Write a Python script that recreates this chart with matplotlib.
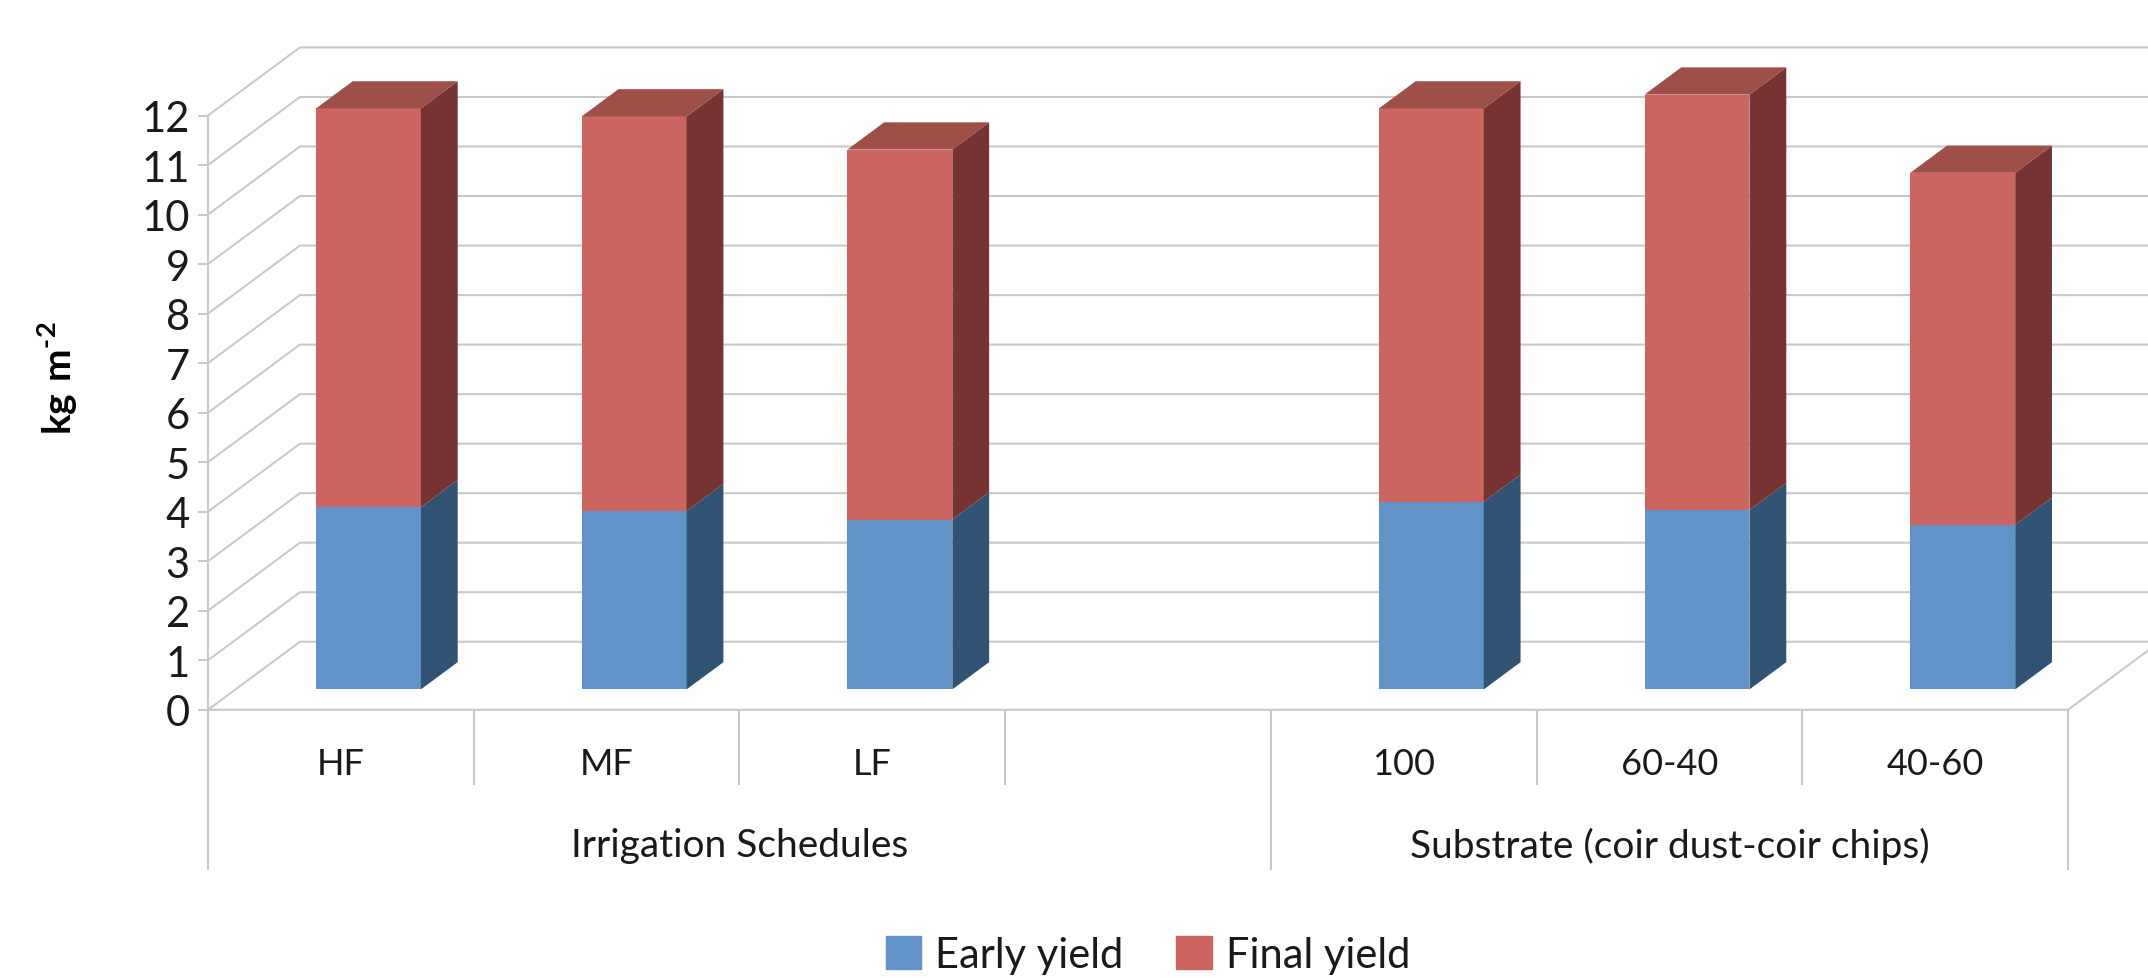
import numpy as np
import matplotlib
matplotlib.use('Agg')
import matplotlib.pyplot as plt
from matplotlib.patches import Patch, Polygon

plt.rcParams['font.family'] = ['Lato', 'DejaVu Sans']
plt.rcParams['mathtext.fontset'] = 'custom'
plt.rcParams['mathtext.rm'] = 'Lato:bold'

# values, kg m-2 (final yield stacks on early yield)
categories = ['HF', 'MF', 'LF', '', '100', '60-40', '40-60']
early_yield = [3.68, 3.60, 3.43, np.nan, 3.79, 3.62, 3.32]
final_yield = [8.05, 7.97, 7.47, np.nan, 7.94, 8.39, 7.11]
groups = ['Irrigation Schedules', 'Substrate (coir dust-coir chips)']
group_spans = [(0, 4), (4, 7)]
y_ticks = list(range(13))

GRID = '#c9c9c9'
TEXT = '#1a1a1a'
EARLY = ('#6193c8', '#305273', '#3d6a96')
FINAL = ('#cc655f', '#763331', '#9e4f47')

# fake 3D: how far the back wall is shifted, in data units
DEPTH_X = 0.346
DEPTH_Y = 1.374
BAR_FRONT = 0.3
BAR_BACK = 0.7
BAR_WIDTH = 0.395

W, H = 2148, 979
fig = plt.figure(figsize=(W / 100, H / 100), dpi=100, facecolor='white')
ax = fig.add_axes([208 / W, (H - 710.8) / H, 1860 / W, 594.3 / H])
ax.set_xlim(0, 7)
ax.set_ylim(0, 12)
ax.patch.set_visible(False)
for name in ['top', 'right', 'bottom']:
    ax.spines[name].set_visible(False)
ax.spines['left'].set_color(GRID)
ax.spines['left'].set_linewidth(1.5)
ax.set_xticks([])
ax.set_yticks(y_ticks)
ax.tick_params(axis='y', length=7.2, width=1.5, color=GRID, pad=6,
               labelsize=30, labelcolor=TEXT)

# gridlines on side and back wall
for v in y_ticks:
    ax.plot([0, DEPTH_X, 7 + DEPTH_X], [v, v + DEPTH_Y, v + DEPTH_Y], color=GRID,
            lw=1.5, clip_on=False, zorder=1)

# floor and category dividers
ax.plot([0, 7, 7 + DEPTH_X], [0, 0, DEPTH_Y], color=GRID, lw=1.5, clip_on=False, zorder=1)
for i in range(len(categories) + 1):
    low = -3.22 if i in (0, 4, 7) else -1.49
    ax.plot([i, i], [0, low], color=GRID, lw=1.5, clip_on=False, zorder=1)


def draw_segment(x, bottom, height, colors, with_top):
    front, side, top = colors
    x0 = x + BAR_FRONT * DEPTH_X - BAR_WIDTH / 2
    y0 = bottom + BAR_FRONT * DEPTH_Y
    run_x = (BAR_BACK - BAR_FRONT) * DEPTH_X
    run_y = (BAR_BACK - BAR_FRONT) * DEPTH_Y
    ax.bar(x0, height, width=BAR_WIDTH, bottom=y0, align='edge', color=front,
           clip_on=False, zorder=3)
    x1 = x0 + BAR_WIDTH
    ax.add_patch(Polygon([(x1, y0), (x1 + run_x, y0 + run_y),
                          (x1 + run_x, y0 + run_y + height), (x1, y0 + height)],
                         facecolor=side, edgecolor='none', clip_on=False, zorder=3))
    if with_top:
        y1 = y0 + height
        ax.add_patch(Polygon([(x0, y1), (x1, y1), (x1 + run_x, y1 + run_y),
                              (x0 + run_x, y1 + run_y)],
                             facecolor=top, edgecolor='none', clip_on=False, zorder=3))


for i, cat in enumerate(categories):
    ax.text(i + 0.5, -1.08, cat, ha='center', va='center', fontsize=26, color=TEXT)
    if not cat:
        continue
    draw_segment(i + 0.5, 0, early_yield[i], EARLY, False)
    draw_segment(i + 0.5, early_yield[i], final_yield[i], FINAL, True)

for name, (a, b) in zip(groups, group_spans):
    ax.text((a + b) / 2, -2.74, name, ha='center', va='center', fontsize=28, color=TEXT)

ax.set_ylabel(r'$\mathrm{kg\ m}^{\text{-2}}$', fontsize=28, color='black')
ax.yaxis.set_label_coords(-0.069, 0.559)

handles = [Patch(color=EARLY[0], label='Early yield'), Patch(color=FINAL[0], label='Final yield')]
fig.legend(handles=handles, loc='center', bbox_to_anchor=(1148 / W, (H - 956) / H), ncols=2,
           frameon=False, fontsize=30, labelcolor=TEXT, handlelength=0.85, handleheight=0.85,
           handletextpad=0.33, columnspacing=1.27)

fig.savefig('out.png', dpi=100)
